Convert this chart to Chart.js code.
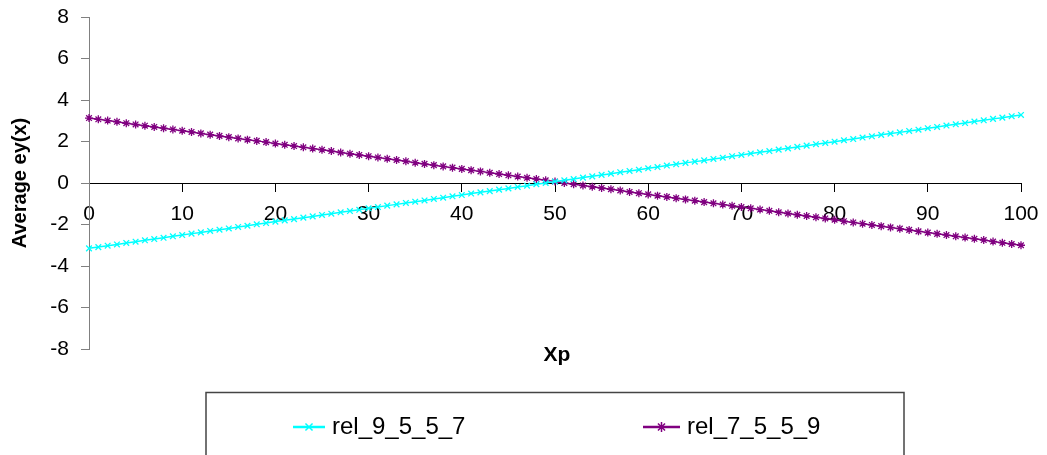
<!DOCTYPE html>
<html>
<head>
<meta charset="utf-8">
<script src="https://cdn.jsdelivr.net/npm/chart.js@4.4.1/dist/chart.umd.min.js"></script>
<style>
  html, body { margin: 0; padding: 0; background: #fff; }
  #wrap { position: relative; width: 1047px; height: 455px; }
</style>
</head>
<body>
<div id="wrap"><canvas id="grafico" width="1047" height="455"></canvas></div>
<script>
// --- datos ---
const xp = [
  0, 1, 2, 3, 4, 5, 6, 7, 8, 9,
  10, 11, 12, 13, 14, 15, 16, 17, 18, 19,
  20, 21, 22, 23, 24, 25, 26, 27, 28, 29,
  30, 31, 32, 33, 34, 35, 36, 37, 38, 39,
  40, 41, 42, 43, 44, 45, 46, 47, 48, 49,
  50, 51, 52, 53, 54, 55, 56, 57, 58, 59,
  60, 61, 62, 63, 64, 65, 66, 67, 68, 69,
  70, 71, 72, 73, 74, 75, 76, 77, 78, 79,
  80, 81, 82, 83, 84, 85, 86, 87, 88, 89,
  90, 91, 92, 93, 94, 95, 96, 97, 98, 99,
  100
];

const rel_9_5_5_7 = [
  -3.15, -3.09, -3.02, -2.96, -2.89, -2.83, -2.76, -2.70, -2.64, -2.57,
  -2.51, -2.44, -2.38, -2.31, -2.25, -2.19, -2.12, -2.06, -1.99, -1.93,
  -1.86, -1.80, -1.74, -1.67, -1.61, -1.54, -1.48, -1.41, -1.35, -1.29,
  -1.22, -1.16, -1.09, -1.03, -0.96, -0.90, -0.84, -0.77, -0.71, -0.64,
  -0.58, -0.51, -0.45, -0.39, -0.32, -0.26, -0.19, -0.13, -0.06, 0.00,
  0.07, 0.13, 0.19, 0.26, 0.32, 0.39, 0.45, 0.52, 0.58, 0.64,
  0.71, 0.77, 0.84, 0.90, 0.97, 1.03, 1.09, 1.16, 1.22, 1.29,
  1.35, 1.42, 1.48, 1.54, 1.61, 1.67, 1.74, 1.80, 1.87, 1.93,
  1.99, 2.06, 2.12, 2.19, 2.25, 2.32, 2.38, 2.44, 2.51, 2.57,
  2.64, 2.70, 2.77, 2.83, 2.89, 2.96, 3.02, 3.09, 3.15, 3.22,
  3.28
];

const rel_7_5_5_9 = [
  3.13, 3.07, 3.01, 2.95, 2.88, 2.82, 2.76, 2.70, 2.64, 2.58,
  2.52, 2.46, 2.39, 2.33, 2.27, 2.21, 2.15, 2.09, 2.03, 1.97,
  1.90, 1.84, 1.78, 1.72, 1.66, 1.60, 1.54, 1.47, 1.41, 1.35,
  1.29, 1.23, 1.17, 1.11, 1.05, 0.98, 0.92, 0.86, 0.80, 0.74,
  0.68, 0.62, 0.56, 0.49, 0.43, 0.37, 0.31, 0.25, 0.19, 0.13,
  0.07, 0.00, -0.06, -0.12, -0.18, -0.24, -0.30, -0.36, -0.43, -0.49,
  -0.55, -0.61, -0.67, -0.73, -0.79, -0.85, -0.92, -0.98, -1.04, -1.10,
  -1.16, -1.22, -1.28, -1.34, -1.41, -1.47, -1.53, -1.59, -1.65, -1.71,
  -1.77, -1.84, -1.90, -1.96, -2.02, -2.08, -2.14, -2.20, -2.26, -2.33,
  -2.39, -2.45, -2.51, -2.57, -2.63, -2.69, -2.75, -2.82, -2.88, -2.94,
  -3.00
];

const xTicks = [0, 10, 20, 30, 40, 50, 60, 70, 80, 90, 100];
const yTicks = [-8, -6, -4, -2, 0, 2, 4, 6, 8];

const FUENTE = "'Liberation Sans', Arial, sans-serif";

// sin relleno automatico: el area del grafico la fija layout.padding
function sinRelleno(scale) {
  scale.paddingTop = 0;
  scale.paddingBottom = 0;
  scale.paddingLeft = 0;
  scale.paddingRight = 0;
}

// titulo del eje X y cuadro de leyenda, dibujados sobre el canvas
const extrasPlugin = {
  id: 'extras',
  afterDraw(chart) {
    const ctx = chart.ctx;
    ctx.save();

    // "Xp"
    ctx.fillStyle = '#000';
    ctx.font = 'bold 21px ' + FUENTE;
    ctx.textAlign = 'center';
    ctx.textBaseline = 'middle';
    ctx.fillText('Xp', 557, 355);

    // cuadro de la leyenda (se corta abajo)
    ctx.strokeStyle = '#444';
    ctx.lineWidth = 1.5;
    ctx.strokeRect(206, 392.5, 698, 80);

    const items = [
      { ds: chart.data.datasets[0], x0: 293, x1: 325, tx: 332 },
      { ds: chart.data.datasets[1], x0: 643, x1: 680, tx: 687 }
    ];
    const yc = 427;
    items.forEach(it => {
      ctx.strokeStyle = it.ds.borderColor;
      ctx.lineWidth = 2.5;
      ctx.beginPath();
      ctx.moveTo(it.x0, yc);
      ctx.lineTo(it.x1, yc);
      ctx.stroke();
      ctx.strokeStyle = it.ds.pointBorderColor;
      ctx.lineWidth = 1.5;
      Chart.helpers.drawPoint(ctx, {
        pointStyle: it.ds.pointStyle,
        radius: 5,
        borderWidth: 1.5
      }, (it.x0 + it.x1) / 2, yc);
      ctx.fillStyle = '#000';
      ctx.font = '24px ' + FUENTE;
      ctx.textAlign = 'left';
      ctx.textBaseline = 'middle';
      ctx.fillText(it.ds.label, it.tx, yc);
    });
    ctx.restore();
  }
};

const ctx = document.getElementById('grafico').getContext('2d');
new Chart(ctx, {
  type: 'line',
  data: {
    datasets: [
      {
        label: 'rel_9_5_5_7',
        data: xp.map((x, i) => ({ x: x, y: rel_9_5_5_7[i] })),
        borderColor: '#00FFFF',
        backgroundColor: '#00FFFF',
        pointBorderColor: '#00FFFF',
        borderWidth: 1.5,
        pointStyle: 'crossRot',
        pointRadius: 4,
        pointBorderWidth: 1.3,
        tension: 0,
        clip: false
      },
      {
        label: 'rel_7_5_5_9',
        data: xp.map((x, i) => ({ x: x, y: rel_7_5_5_9[i] })),
        borderColor: '#800080',
        backgroundColor: '#800080',
        pointBorderColor: '#800080',
        borderWidth: 1.5,
        pointStyle: 'star',
        pointRadius: 4,
        pointBorderWidth: 1.3,
        tension: 0,
        clip: false
      }
    ]
  },
  options: {
    responsive: false,
    animation: false,
    events: [],
    layout: { padding: { top: 17, right: 26, bottom: 106, left: 0 } },
    plugins: {
      legend: { display: false },
      tooltip: { enabled: false }
    },
    scales: {
      x: {
        type: 'linear',
        position: { y: 0 },
        min: 0,
        max: 100,
        afterBuildTicks: scale => { scale.ticks = xTicks.map(v => ({ value: v })); },
        afterFit: sinRelleno,
        ticks: {
          color: '#000',
          font: { family: FUENTE, size: 21 },
          padding: 11,
          maxRotation: 0,
          autoSkip: false
        },
        grid: {
          drawOnChartArea: false,
          drawTicks: true,
          tickLength: 8,
          color: '#000'
        },
        border: { color: '#000', width: 1 }
      },
      y: {
        type: 'linear',
        min: -8,
        max: 8,
        afterBuildTicks: scale => { scale.ticks = yTicks.map(v => ({ value: v })); },
        afterFit: scale => { scale.width = 89; sinRelleno(scale); },
        ticks: {
          color: '#000',
          font: { family: FUENTE, size: 21 },
          padding: 12
        },
        grid: {
          drawOnChartArea: false,
          drawTicks: true,
          tickLength: 8,
          color: '#808080'
        },
        border: { color: '#808080', width: 1 },
        title: {
          display: true,
          text: 'Average ey(x)',
          color: '#000',
          font: { family: FUENTE, size: 20, weight: 'bold' },
          padding: { top: 8, bottom: 0 }
        }
      }
    }
  },
  plugins: [extrasPlugin]
});
</script>
</body>
</html>
